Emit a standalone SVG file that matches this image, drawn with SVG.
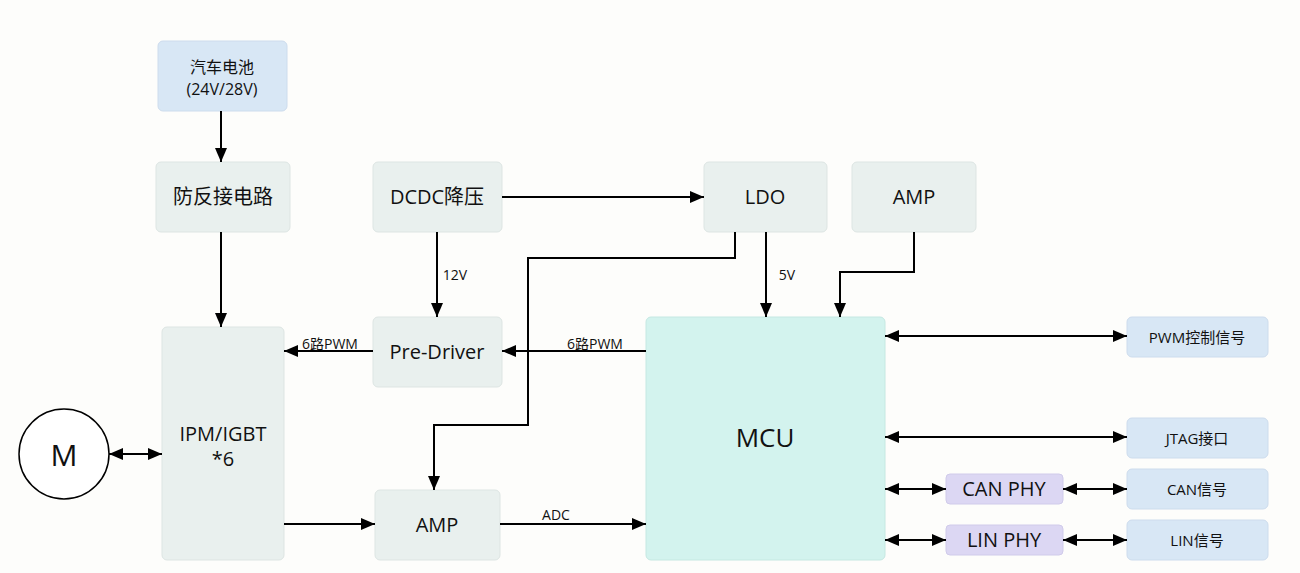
<svg xmlns="http://www.w3.org/2000/svg" width="1300" height="573" viewBox="0 0 1300 573">
<defs>
<marker id="a" viewBox="0 0 14 12" refX="14" refY="6" markerWidth="14" markerHeight="12" markerUnits="userSpaceOnUse" orient="auto-start-reverse"><path d="M0,0 L14,6 L0,12 z" fill="#000"/></marker>
<style>
.n{fill:#e9f0ee;stroke:#dde5e3;stroke-width:1}
.b{fill:#d8e7f5;stroke:#cddced;stroke-width:1}
.p{fill:#dcd7f3;stroke:#d0cbea;stroke-width:1}
.m{fill:#d3f3ee;stroke:#c5e8e2;stroke-width:1}
text{font-family:"Open Sans","Noto Sans CJK SC",sans-serif;fill:#111;text-anchor:middle}
.t{font-size:20px}.s{font-size:15px}.l{font-size:14px}
.c{fill:none;stroke:#000;stroke-width:2}
</style>
</defs>
<rect width="1300" height="573" fill="#fdfdfb"/>
<g id="battery"><rect class="b" x="158" y="41" width="129" height="70" rx="5"/><text x="222" y="73" font-size="16">汽车电池</text><text x="222" y="95" font-size="16">(24V/28V)</text></g>
<g id="reverse"><rect class="n" x="156" y="162" width="134" height="70" rx="5"/><text class="t" x="223" y="204">防反接电路</text></g>
<g id="dcdc"><rect class="n" x="373" y="162" width="129" height="70" rx="5"/><text class="t" x="437" y="204">DCDC降压</text></g>
<g id="ldo"><rect class="n" x="704" y="162" width="123" height="70" rx="5"/><text class="t" x="765" y="204">LDO</text></g>
<g id="amp1"><rect class="n" x="852" y="162" width="124" height="70" rx="5"/><text class="t" x="914" y="204">AMP</text></g>
<g id="ipm"><rect class="n" x="162" y="327" width="122" height="233" rx="5"/><text class="t" x="223" y="441">IPM/IGBT</text><text class="t" x="223" y="466">*6</text></g>
<g id="predriver"><rect class="n" x="373" y="317" width="129" height="70" rx="5"/><text class="t" x="437" y="359">Pre-Driver</text></g>
<g id="amp2"><rect class="n" x="375" y="490" width="125" height="70" rx="5"/><text class="t" x="437" y="532">AMP</text></g>
<g id="mcu"><rect class="m" x="646" y="317" width="239" height="243" rx="5"/><text x="765" y="447" font-size="26">MCU</text></g>
<g id="motor"><circle cx="64" cy="454" r="45" fill="#fff" stroke="#000" stroke-width="1.5"/><text x="64" y="466" font-size="30">M</text></g>
<g id="pwm"><rect class="b" x="1127" y="317" width="141" height="40" rx="5"/><text class="s" x="1197" y="343">PWM控制信号</text></g>
<g id="jtag"><rect class="b" x="1127" y="418" width="141" height="40" rx="5"/><text class="s" x="1197" y="444">JTAG接口</text></g>
<g id="can"><rect class="b" x="1127" y="469" width="141" height="40" rx="5"/><text class="s" x="1197" y="495">CAN信号</text></g>
<g id="lin"><rect class="b" x="1127" y="520" width="141" height="40" rx="5"/><text class="s" x="1197" y="546">LIN信号</text></g>
<g id="canphy"><rect class="p" x="946" y="474" width="117" height="30" rx="4"/><text class="t" x="1004" y="496">CAN PHY</text></g>
<g id="linphy"><rect class="p" x="946" y="525" width="117" height="30" rx="4"/><text class="t" x="1004" y="547">LIN PHY</text></g>
<g id="connectors">
<path class="c" d="M221,111V162" marker-end="url(#a)"/>
<path class="c" d="M221,232V327" marker-end="url(#a)"/>
<path class="c" d="M502,197H704" marker-end="url(#a)"/>
<path class="c" d="M437,232V317" marker-end="url(#a)"/>
<path class="c" d="M766,232V317" marker-end="url(#a)"/>
<path class="c" d="M735,232V258H528V425H434V490" marker-end="url(#a)"/>
<path class="c" d="M914,232V272H840V317" marker-end="url(#a)"/>
<path class="c" d="M646,351H502" marker-end="url(#a)"/>
<path class="c" d="M373,351H284" marker-end="url(#a)"/>
<path class="c" d="M284,524H375" marker-end="url(#a)"/>
<path class="c" d="M500,524H646" marker-end="url(#a)"/>
<path class="c" d="M109,454H162" marker-start="url(#a)" marker-end="url(#a)"/>
<path class="c" d="M885,336H1127" marker-start="url(#a)" marker-end="url(#a)"/>
<path class="c" d="M885,437H1127" marker-start="url(#a)" marker-end="url(#a)"/>
<path class="c" d="M885,489H946" marker-start="url(#a)" marker-end="url(#a)"/>
<path class="c" d="M1063,489H1127" marker-start="url(#a)" marker-end="url(#a)"/>
<path class="c" d="M885,540H946" marker-start="url(#a)" marker-end="url(#a)"/>
<path class="c" d="M1063,540H1127" marker-start="url(#a)" marker-end="url(#a)"/>
<text class="l" x="455" y="280">12V</text>
<text class="l" x="787" y="280">5V</text>
<text class="l" x="595" y="349">6路PWM</text>
<text class="l" x="330" y="349">6路PWM</text>
<text class="l" x="556" y="520">ADC</text>
</g>
</svg>
